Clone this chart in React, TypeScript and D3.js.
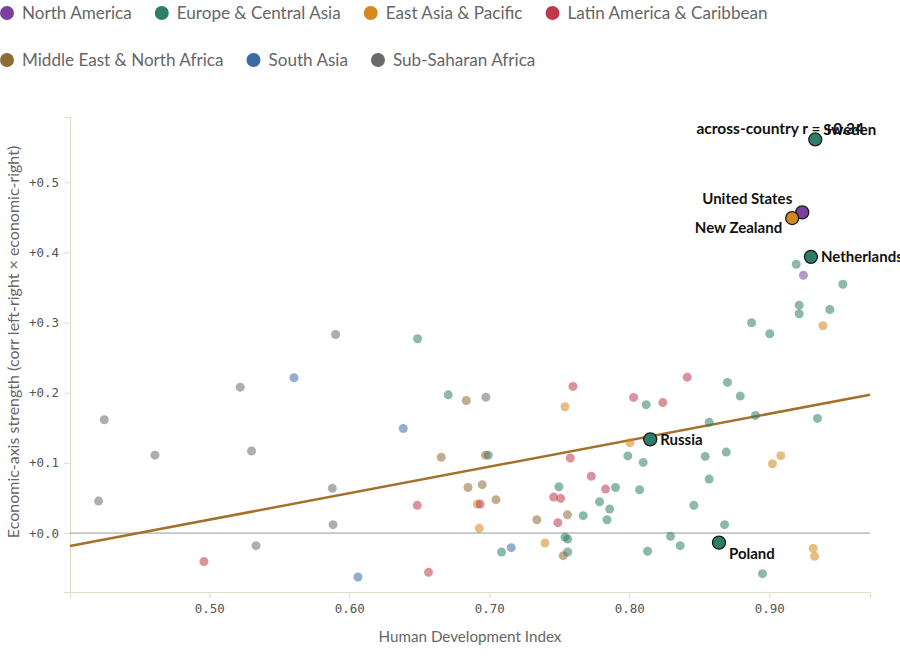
import React, { useEffect, useRef } from 'react';
import * as d3 from 'd3';

// Regions and their colours (legend order)
const regions = [
  'North America',
  'Europe & Central Asia',
  'East Asia & Pacific',
  'Latin America & Caribbean',
  'Middle East & North Africa',
  'South Asia',
  'Sub-Saharan Africa',
];
const regionColors = ['#7b3f9e', '#2d7d69', '#d4891c', '#c0384e', '#8d6b35', '#3b6aa9', '#6b6b6b'];

// [HDI, economic-axis strength] per country, grouped by region
const northAmerica = [[0.9245, 0.3675]];
const europeCentralAsia = [
  [0.6488, 0.277], [0.6707, 0.197], [0.8121, 0.183], [0.6993, 0.111], [0.799, 0.11],
  [0.81, 0.1007], [0.7498, 0.066], [0.7902, 0.065], [0.8074, 0.0618], [0.7788, 0.0447],
  [0.786, 0.0342], [0.7671, 0.0248], [0.7841, 0.019], [0.7541, -0.0057], [0.756, -0.0085],
  [0.7088, -0.027], [0.756, -0.027], [0.8131, -0.026], [0.9526, 0.3547], [0.9214, 0.3248],
  [0.9214, 0.3125], [0.9433, 0.3187], [0.8874, 0.2997], [0.9004, 0.284], [0.8702, 0.2147],
  [0.8793, 0.1952], [0.8571, 0.158], [0.8902, 0.1677], [0.9345, 0.1634], [0.8543, 0.1093],
  [0.8693, 0.1154], [0.8571, 0.0769], [0.8462, 0.0395], [0.8681, 0.012], [0.8295, -0.0047],
  [0.8364, -0.018], [0.8952, -0.0579], [0.9193, 0.3832],
];
const eastAsiaPacific = [
  [0.7541, 0.18], [0.6915, 0.0413], [0.6929, 0.0067], [0.7398, -0.0142], [0.8005, 0.1288],
  [0.9383, 0.2954], [0.9083, 0.1103], [0.9023, 0.0988], [0.9314, -0.0218], [0.9324, -0.0332],
];
const latinAmerica = [
  [0.4962, -0.0407], [0.7598, 0.209], [0.8031, 0.1933], [0.824, 0.186], [0.7579, 0.107],
  [0.7729, 0.081], [0.7831, 0.0627], [0.6486, 0.0395], [0.6935, 0.0413], [0.746, 0.0513],
  [0.751, 0.0494], [0.749, 0.0148], [0.6566, -0.056], [0.8414, 0.2222],
];
const middleEastNorthAfrica = [
  [0.6836, 0.189], [0.6657, 0.108], [0.6973, 0.111], [0.6848, 0.065], [0.695, 0.069],
  [0.7048, 0.0476], [0.7559, 0.026], [0.734, 0.019], [0.7529, -0.0322],
];
const southAsia = [[0.5605, 0.2214], [0.6062, -0.0627], [0.6386, 0.149], [0.7157, -0.0208]];
const subSaharanAfrica = [
  [0.5902, 0.283], [0.5221, 0.208], [0.425, 0.1615], [0.4612, 0.111], [0.5302, 0.117],
  [0.5879, 0.0637], [0.4209, 0.0456], [0.5884, 0.012], [0.5334, -0.018], [0.6976, 0.1937],
];
const regionPoints = [
  northAmerica, europeCentralAsia, eastAsiaPacific, latinAmerica,
  middleEastNorthAfrica, southAsia, subSaharanAfrica,
];

// Labelled countries
const labelNames = ['Sweden', 'United States', 'New Zealand', 'Netherlands', 'Russia', 'Poland'];
const labelRegions = [1, 0, 2, 1, 1, 1];
const labelHdi = [0.9329, 0.9236, 0.9164, 0.9298, 0.815, 0.8641];
const labelEcon = [0.561, 0.457, 0.449, 0.3937, 0.1335, -0.0137];

// Fitted line across countries
const fitSlope = 0.3775;
const fitIntercept = -0.1697;
const fitR = 0.34;

// label placement (dx, dy, anchor)
const labelPlacement = {
  'Sweden': [8, -10, 'start'],
  'United States': [-10, -14, 'end'],
  'New Zealand': [-10, 10, 'end'],
  'Netherlands': [10, 0, 'start'],
  'Russia': [10, 0, 'start'],
  'Poland': [10, 11, 'start'],
};

const App = () => {
  const ref = useRef<SVGSVGElement>(null);

  useEffect(() => {
    const width = 900;
    const height = 661;
    const margin = { top: 117, right: 30, bottom: 69, left: 70 };
    const sansFont = 'Lato, "Open Sans", sans-serif';
    const monoFont = '"DejaVu Sans Mono", monospace';
    const axisColor = '#e0dcc6';

    const svg = d3.select(ref.current);
    svg.selectAll('*').remove();

    const x = d3.scaleLinear().domain([0.4005, 0.972]).range([margin.left, width - margin.right]);
    const y = d3.scaleLinear().domain([-0.084, 0.593]).range([height - margin.bottom, margin.top]);

    // Legend (wrapping rows)
    const legend = svg.append('g');
    let lx = 0;
    let row = 0;
    regions.forEach((name, i) => {
      const g = legend.append('g');
      const t = g.append('text')
        .attr('x', 22)
        .attr('dy', '0.35em')
        .style('font-family', sansFont)
        .style('font-size', '17.1px')
        .attr('fill', '#666')
        .text(name);
      const w = 22 + (t.node() as SVGTextElement).getComputedTextLength();
      if (lx + w > width && lx > 0) { lx = 0; row += 1; }
      g.append('circle').attr('cx', 7).attr('r', 7).attr('fill', regionColors[i]);
      g.attr('transform', `translate(${lx},${13 + row * 47})`);
      lx += w + 23;
    });

    // Axes
    const xAxis = svg.append('g')
      .attr('transform', `translate(0,${height - margin.bottom})`)
      .call(d3.axisBottom(x).ticks(5).tickFormat(d3.format('.2f')).tickSize(6).tickPadding(6));
    const yAxis = svg.append('g')
      .attr('transform', `translate(${margin.left},0)`)
      .call(d3.axisLeft(y).ticks(6).tickFormat(d3.format('+.1f')).tickSize(6).tickPadding(5));
    [xAxis, yAxis].forEach(a => {
      a.selectAll('path, line').attr('stroke', axisColor);
      a.selectAll('text')
        .attr('fill', '#555')
        .style('font-family', monoFont)
        .style('font-size', '12.5px');
    });

    svg.append('text')
      .attr('x', (margin.left + width - margin.right) / 2)
      .attr('y', 642)
      .attr('text-anchor', 'middle')
      .style('font-family', sansFont)
      .style('font-size', '15.2px')
      .attr('fill', '#666')
      .text('Human Development Index');

    svg.append('text')
      .attr('transform', `translate(19,342) rotate(-90)`)
      .attr('text-anchor', 'middle')
      .style('font-family', sansFont)
      .style('font-size', '16px')
      .attr('fill', '#666')
      .text('Economic-axis strength (corr left-right × economic-right)');

    // zero line
    svg.append('line')
      .attr('x1', margin.left).attr('x2', width - margin.right)
      .attr('y1', y(0)).attr('y2', y(0))
      .attr('stroke', '#999').attr('stroke-width', 1);

    // fitted line
    const [x0, x1] = x.domain();
    svg.append('line')
      .attr('x1', x(x0)).attr('y1', y(fitIntercept + fitSlope * x0))
      .attr('x2', x(x1)).attr('y2', y(fitIntercept + fitSlope * x1))
      .attr('stroke', '#a4712b').attr('stroke-width', 2.5);

    // country dots
    regionPoints.forEach((pts, i) => {
      svg.append('g')
        .selectAll('circle')
        .data(pts)
        .join('circle')
        .attr('cx', d => x(d[0]))
        .attr('cy', d => y(d[1]))
        .attr('r', 4.5)
        .attr('fill', regionColors[i])
        .attr('fill-opacity', 0.55);
    });

    // highlighted countries
    const labelled = labelNames.map((name, i) => ({
      name, hdi: labelHdi[i], econ: labelEcon[i], color: regionColors[labelRegions[i]],
    }));
    svg.append('g')
      .selectAll('circle')
      .data(labelled)
      .join('circle')
      .attr('cx', d => x(d.hdi))
      .attr('cy', d => y(d.econ))
      .attr('r', 6.5)
      .attr('fill', d => d.color)
      .attr('stroke', '#1a1a1a')
      .attr('stroke-width', 1.3);

    svg.append('text')
      .attr('x', width - margin.right - 6)
      .attr('y', margin.top + 12)
      .attr('dy', '0.35em')
      .attr('text-anchor', 'end')
      .style('font-family', sansFont)
      .style('font-size', '15.5px')
      .style('font-weight', 700)
      .attr('fill', '#111')
      .text(`across-country r = ${d3.format('+.2f')(fitR)}`);

    svg.append('g')
      .selectAll('text')
      .data(labelled)
      .join('text')
      .attr('x', d => x(d.hdi) + labelPlacement[d.name][0])
      .attr('y', d => y(d.econ) + labelPlacement[d.name][1])
      .attr('dy', '0.35em')
      .attr('text-anchor', d => labelPlacement[d.name][2])
      .style('font-family', sansFont)
      .style('font-size', '15px')
      .style('font-weight', 700)
      .attr('fill', '#111')
      .text(d => d.name);
  }, []);

  return (
    <svg
      ref={ref}
      width={900}
      height={661}
      style={{ position: 'absolute', left: 0, top: 0, background: '#fff' }}
    />
  );
};

export default App;
